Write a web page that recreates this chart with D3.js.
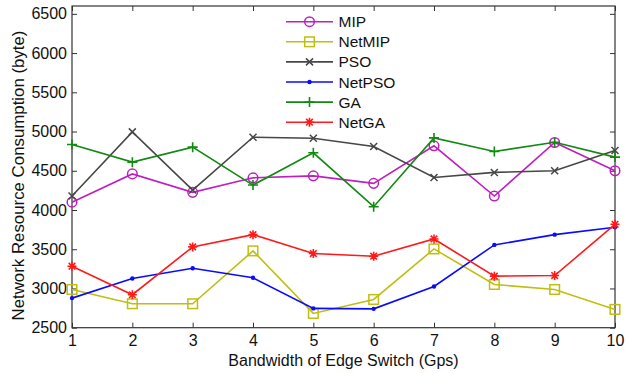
<!DOCTYPE html>
<html>
<head>
<meta charset="utf-8">
<script src="https://cdn.jsdelivr.net/npm/d3@7"></script>
<style>
  html, body { margin: 0; padding: 0; background: #fff; }
  svg { display: block; font-family: "Liberation Sans", Arial, sans-serif; }
</style>
</head>
<body>
<svg id="chart" width="627" height="373"></svg>
<script>
// Bandwidth of edge switch (Gbps) on the x axis
const bandwidth = [1, 2, 3, 4, 5, 6, 7, 8, 9, 10];

// Network resource consumption (byte) for each algorithm
const mip    = [4100, 4460, 4225, 4410, 4435, 4340, 4818, 4178, 4860, 4500];
const netMip = [2987, 2805, 2805, 3479, 2682, 2860, 3504, 3051, 2987, 2733];
const pso    = [4178, 4996, 4254, 4928, 4915, 4809, 4415, 4479, 4500, 4758];
const netPso = [2877, 3127, 3258, 3136, 2746, 2740, 3025, 3555, 3686, 3780];
const ga     = [4835, 4610, 4801, 4318, 4729, 4042, 4919, 4746, 4864, 4674];
const netGa  = [3284, 2920, 3530, 3686, 3445, 3411, 3631, 3157, 3165, 3818];

const seriesNames = ["MIP", "NetMIP", "PSO", "NetPSO", "GA", "NetGA"];
const xTicks = [1, 2, 3, 4, 5, 6, 7, 8, 9, 10];
const yTicks = [2500, 3000, 3500, 4000, 4500, 5000, 5500, 6000, 6500];

const series = [
  { name: seriesNames[0], values: mip,    color: "#bf1fbf", marker: "circle" },
  { name: seriesNames[1], values: netMip, color: "#bfbf12", marker: "square" },
  { name: seriesNames[2], values: pso,    color: "#474747", marker: "x" },
  { name: seriesNames[3], values: netPso, color: "#0a0aff", marker: "dot" },
  { name: seriesNames[4], values: ga,     color: "#108a10", marker: "plus" },
  { name: seriesNames[5], values: netGa,  color: "#ff1a1a", marker: "star" }
];

const svg = d3.select("#chart");
const plotLeft = 72, plotRight = 615, plotTop = 6, plotBottom = 327.7;

const x = d3.scaleLinear().domain([1, 10]).range([plotLeft, plotRight]);
const y = d3.scaleLinear().domain([2500, 6600]).range([plotBottom, plotTop]);

const axisColor = "#333";
const tickLen = 5;
const labelFont = "16px";

// Axes: ticks point inward on all four sides, labels on left and bottom
const gx = svg.append("g").attr("transform", `translate(0,${plotBottom})`)
  .call(d3.axisBottom(x).tickValues(xTicks).tickFormat(d3.format("d"))
    .tickSizeInner(-tickLen).tickSizeOuter(0).tickPadding(7));
const gy = svg.append("g").attr("transform", `translate(${plotLeft},0)`)
  .call(d3.axisLeft(y).tickValues(yTicks).tickFormat(d3.format("d"))
    .tickSizeInner(-tickLen).tickSizeOuter(0).tickPadding(5));
const gxTop = svg.append("g").attr("transform", `translate(0,${plotTop})`)
  .call(d3.axisTop(x).tickValues(xTicks).tickSizeInner(-tickLen).tickSizeOuter(0).tickFormat(""));
const gyRight = svg.append("g").attr("transform", `translate(${plotRight},0)`)
  .call(d3.axisRight(y).tickValues(yTicks).tickSizeInner(-tickLen).tickSizeOuter(0).tickFormat(""));

[gx, gy, gxTop, gyRight].forEach(g => {
  g.select(".domain").remove();
  g.selectAll(".tick line").attr("stroke", axisColor).attr("stroke-width", 1);
  g.selectAll(".tick text").attr("fill", "#111").style("font-size", labelFont)
    .style("font-family", "'Liberation Sans', Arial, sans-serif");
});

// Plot frame
svg.append("rect")
  .attr("x", plotLeft).attr("y", plotTop)
  .attr("width", plotRight - plotLeft).attr("height", plotBottom - plotTop)
  .attr("fill", "none").attr("stroke", axisColor).attr("stroke-width", 1.2);

// Axis titles
svg.append("text")
  .attr("x", (plotLeft + plotRight) / 2).attr("y", 366)
  .attr("text-anchor", "middle").style("font-size", labelFont).attr("fill", "#111")
  .text("Bandwidth of Edge Switch (Gps)");
const yTitle = svg.append("text")
  .attr("transform", `translate(23.5,175.5) rotate(-90)`)
  .attr("text-anchor", "middle").style("font-size", "17px").attr("fill", "#111")
  .text("Network Resource Consumption (byte)");
// Size the vertical title so it spans the full height of the axis labels
const yTitleLen = yTitle.node().getComputedTextLength();
if (yTitleLen > 0) yTitle.style("font-size", (17 * 290 / yTitleLen).toFixed(2) + "px");

// Marker drawing helper
function drawMarker(g, type, cx, cy, color) {
  switch (type) {
    case "circle":
      g.append("circle").attr("cx", cx).attr("cy", cy).attr("r", 4.8)
        .attr("fill", "none").attr("stroke", color).attr("stroke-width", 1.5);
      break;
    case "square":
      g.append("rect").attr("x", cx - 4.8).attr("y", cy - 4.8).attr("width", 9.6).attr("height", 9.6)
        .attr("fill", "none").attr("stroke", color).attr("stroke-width", 1.5);
      break;
    case "x":
      g.append("path").attr("d", `M${cx-3.5},${cy-3.5}L${cx+3.5},${cy+3.5}M${cx-3.5},${cy+3.5}L${cx+3.5},${cy-3.5}`)
        .attr("stroke", color).attr("stroke-width", 1.5);
      break;
    case "dot":
      g.append("circle").attr("cx", cx).attr("cy", cy).attr("r", 2.2).attr("fill", color);
      break;
    case "plus":
      g.append("path").attr("d", `M${cx-5},${cy}L${cx+5},${cy}M${cx},${cy-5}L${cx},${cy+5}`)
        .attr("stroke", color).attr("stroke-width", 1.6);
      break;
    case "star":
      g.append("path").attr("d",
        `M${cx-4.5},${cy}L${cx+4.5},${cy}M${cx},${cy-4.5}L${cx},${cy+4.5}` +
        `M${cx-3.3},${cy-3.3}L${cx+3.3},${cy+3.3}M${cx-3.3},${cy+3.3}L${cx+3.3},${cy-3.3}`)
        .attr("stroke", color).attr("stroke-width", 1.6);
      break;
  }
}

// Lines and markers
const line = d3.line().x((d, i) => x(bandwidth[i])).y(d => y(d));
series.forEach(s => {
  const g = svg.append("g");
  g.append("path").datum(s.values).attr("d", line)
    .attr("fill", "none").attr("stroke", s.color).attr("stroke-width", 1.6);
  s.values.forEach((v, i) => drawMarker(g, s.marker, x(bandwidth[i]), y(v), s.color));
});

// Legend
const legend = svg.append("g");
series.forEach((s, i) => {
  const ly = 21.7 + i * 20.1;
  legend.append("line").attr("x1", 286).attr("x2", 333).attr("y1", ly).attr("y2", ly)
    .attr("stroke", s.color).attr("stroke-width", 1.6);
  drawMarker(legend, s.marker, 309.5, ly, s.color);
  legend.append("text").attr("x", 338.5).attr("y", ly).attr("dy", "0.36em")
    .style("font-size", "15.5px").attr("fill", "#111").text(s.name);
});
</script>
</body>
</html>
